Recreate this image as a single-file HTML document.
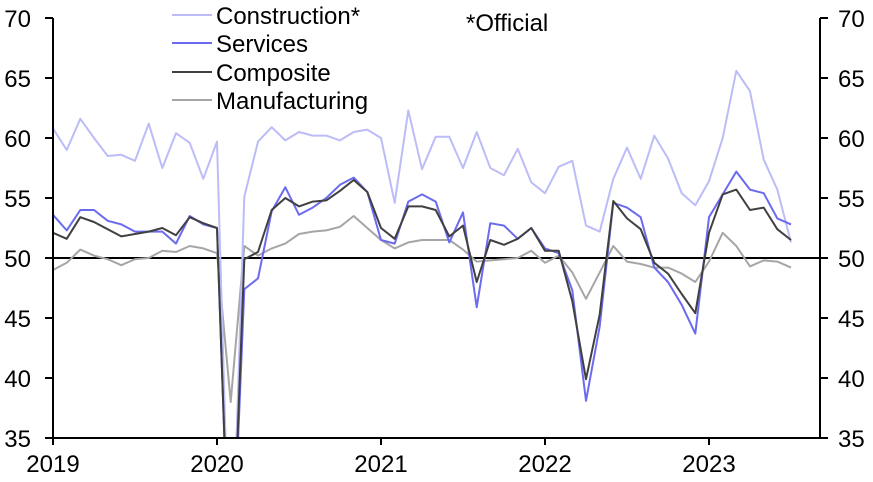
<!DOCTYPE html><html><head><meta charset="utf-8"><style>html,body{margin:0;padding:0;background:#fff;overflow:hidden;width:873px;height:482px}svg{display:block;font-family:"Liberation Sans",sans-serif}</style></head><body>
<svg id="s" width="873" height="482" viewBox="0 0 873 482" xmlns="http://www.w3.org/2000/svg">
<defs><clipPath id="c"><rect x="53" y="0" width="767" height="438"/></clipPath></defs>
<g id="ticks" font-size="24" fill="#000"></g>
<line x1="53" y1="258" x2="820" y2="258" stroke="#000" stroke-width="2"/>
<g id="lines" clip-path="url(#c)" fill="none" stroke-width="2" stroke-linejoin="round"></g>
<line x1="53" y1="18" x2="53" y2="439" stroke="#000" stroke-width="2"/>
<line x1="820" y1="18" x2="820" y2="439" stroke="#000" stroke-width="2"/>
<line x1="52" y1="438" x2="821" y2="438" stroke="#000" stroke-width="2"/>
<g font-size="24">
<line x1="172" y1="15" x2="212" y2="15" stroke="#bcbcf8" stroke-width="2"/><text x="216" y="24">Construction*</text>
<line x1="172" y1="43" x2="212" y2="43" stroke="#6b6bf0" stroke-width="2"/><text x="216" y="52">Services</text>
<line x1="172" y1="72" x2="212" y2="72" stroke="#404040" stroke-width="2"/><text x="216" y="81">Composite</text>
<line x1="172" y1="100" x2="212" y2="100" stroke="#a6a6a6" stroke-width="2"/><text x="216" y="109">Manufacturing</text>
<text x="466" y="31">*Official</text>
</g>
</svg>
<script>
const C=[60.8,59.0,61.6,60.0,58.5,58.6,58.1,61.2,57.5,60.4,59.6,56.6,59.7,20,55.1,59.7,60.9,59.8,60.5,60.2,60.2,59.8,60.5,60.7,60.0,54.6,62.3,57.4,60.1,60.1,57.5,60.5,57.5,56.9,59.1,56.3,55.4,57.6,58.1,52.7,52.2,56.6,59.2,56.6,60.2,58.3,55.4,54.4,56.4,60.0,65.6,63.9,58.2,55.7,51.3];
const S=[53.6,52.3,54.0,54.0,53.1,52.8,52.2,52.2,52.2,51.2,53.5,52.8,52.5,20,47.4,48.3,53.9,55.9,53.6,54.2,55.0,56.1,56.7,55.5,51.5,51.2,54.7,55.3,54.7,51.3,53.8,45.9,52.9,52.7,51.6,52.5,50.8,50.4,47.3,38.1,44.3,54.6,54.2,53.4,49.2,48.0,46.1,43.7,53.4,55.3,57.2,55.7,55.4,53.3,52.8];
const P=[52.1,51.6,53.4,53.0,52.4,51.8,52.0,52.2,52.5,51.9,53.4,52.9,52.5,20,49.9,50.5,54.0,55.0,54.3,54.7,54.8,55.6,56.5,55.5,52.5,51.6,54.3,54.3,54.0,51.8,52.7,48.0,51.5,51.1,51.6,52.5,50.6,50.6,46.4,39.9,45.3,54.75,53.3,52.4,49.6,48.7,47.0,45.4,52.1,55.3,55.7,54.0,54.2,52.4,51.5];
const M=[49.0,49.6,50.7,50.2,49.9,49.4,49.9,50.0,50.6,50.5,51.0,50.8,50.4,38.0,51.0,50.2,50.8,51.2,52.0,52.2,52.3,52.6,53.5,52.5,51.5,50.8,51.3,51.5,51.5,51.5,50.7,49.7,49.8,49.9,50.0,50.6,49.6,50.2,48.8,46.6,48.8,51.0,49.7,49.5,49.2,49.2,48.7,48.0,49.7,52.1,51.0,49.3,49.8,49.7,49.2];
const ns="http://www.w3.org/2000/svg",L=document.getElementById('lines'),T=document.getElementById('ticks');
const X=i=>53+i*164/12,Y=v=>258-(v-50)*12;
[[M,'#a6a6a6'],[C,'#bcbcf8'],[S,'#6b6bf0'],[P,'#404040']].forEach(([d,c])=>{const p=document.createElementNS(ns,'polyline');p.setAttribute('points',d.map((v,i)=>X(i).toFixed(1)+','+Y(v).toFixed(1)).join(' '));p.setAttribute('stroke',c);L.appendChild(p);});
function el(t,a,txt){const e=document.createElementNS(ns,t);for(const k in a)e.setAttribute(k,a[k]);if(txt)e.textContent=txt;T.appendChild(e);}
for(let v=35;v<=70;v+=5){const y=Y(v);el('line',{x1:45,y1:y,x2:53,y2:y,stroke:'#000','stroke-width':2});el('line',{x1:820,y1:y,x2:828,y2:y,stroke:'#000','stroke-width':2});el('text',{x:31,y:y+9,'text-anchor':'end'},v);el('text',{x:838,y:y+9},v);}
for(let k=0;k<5;k++){const x=53+164*k;el('line',{x1:x,y1:438,x2:x,y2:445,stroke:'#000','stroke-width':2});el('text',{x:x,y:472,'text-anchor':'middle'},2019+k);}
</script>
</body></html>
